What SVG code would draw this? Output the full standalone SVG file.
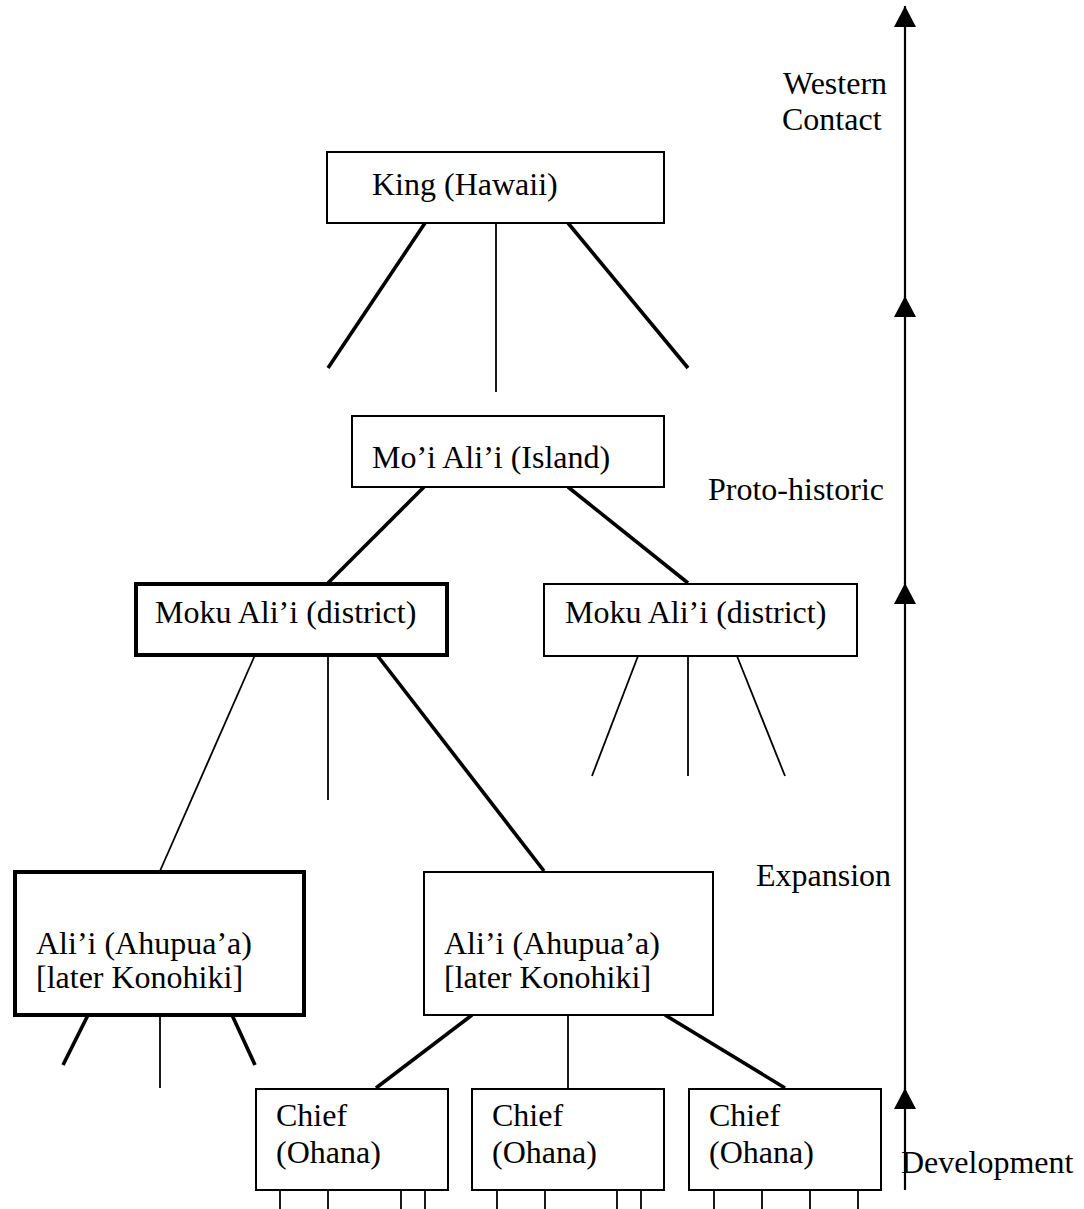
<svg xmlns="http://www.w3.org/2000/svg" width="1084" height="1209" viewBox="0 0 1084 1209">
<style>
.box{fill:#fff;stroke:#000;stroke-width:2}
.bold{stroke-width:4}
.t{font-family:"Liberation Serif","Times New Roman",serif;font-size:32px;fill:#000}
.thin{stroke:#000;stroke-width:1.8;fill:none}
.thick{stroke:#000;stroke-width:3.6;fill:none}
.axis{stroke:#000;stroke-width:2.2;fill:none;marker-end:url(#ah)}
</style>
<defs>
<marker id="ah" markerUnits="userSpaceOnUse" markerWidth="24" markerHeight="24" refX="22" refY="12" orient="auto" viewBox="0 0 24 24">
<path d="M22 12 L1 1 L1 23 Z" fill="#000"/>
</marker>
</defs>
<rect width="1084" height="1209" fill="#fff"/>
<g id="connectors">
<line class="thick" x1="425" y1="223" x2="328" y2="368"/>
<line class="thin" x1="496" y1="223" x2="496" y2="392"/>
<line class="thick" x1="568" y1="223" x2="688" y2="368"/>
<line class="thick" x1="424" y1="487" x2="328" y2="583"/>
<line class="thick" x1="568" y1="487" x2="688" y2="583"/>
<line class="thin" x1="255" y1="655" x2="160" y2="871"/>
<line class="thin" x1="328" y1="655" x2="328" y2="800"/>
<line class="thick" x1="377" y1="655" x2="544" y2="871"/>
<line class="thin" x1="638" y1="656" x2="592" y2="776"/>
<line class="thin" x1="688" y1="656" x2="688" y2="776"/>
<line class="thin" x1="737" y1="656" x2="785" y2="776"/>
<line class="thick" x1="88" y1="1015" x2="63" y2="1065"/>
<line class="thin" x1="160" y1="1015" x2="160" y2="1088"/>
<line class="thick" x1="232" y1="1015" x2="255" y2="1065"/>
<line class="thick" x1="472" y1="1015" x2="376" y2="1088"/>
<line class="thin" x1="568" y1="1015" x2="568" y2="1088"/>
<line class="thick" x1="665" y1="1015" x2="785" y2="1088"/>
<line class="thin" x1="280" y1="1190" x2="280" y2="1209"/>
<line class="thin" x1="328" y1="1190" x2="328" y2="1209"/>
<line class="thin" x1="401" y1="1190" x2="401" y2="1209"/>
<line class="thin" x1="425" y1="1190" x2="425" y2="1209"/>
<line class="thin" x1="497" y1="1190" x2="497" y2="1209"/>
<line class="thin" x1="545" y1="1190" x2="545" y2="1209"/>
<line class="thin" x1="617" y1="1190" x2="617" y2="1209"/>
<line class="thin" x1="641" y1="1190" x2="641" y2="1209"/>
<line class="thin" x1="714" y1="1190" x2="714" y2="1209"/>
<line class="thin" x1="762" y1="1190" x2="762" y2="1209"/>
<line class="thin" x1="810" y1="1190" x2="810" y2="1209"/>
<line class="thin" x1="858" y1="1190" x2="858" y2="1209"/>
</g>
<g id="timeline">
<line class="axis" x1="905" y1="297" x2="905" y2="6"/>
<line class="axis" x1="905" y1="584" x2="905" y2="296"/>
<line class="axis" x1="905" y1="1089" x2="905" y2="583"/>
<line class="axis" x1="905" y1="1190" x2="905" y2="1088"/>
<text class="t" x="783" y="94">Western</text>
<text class="t" x="782" y="130">Contact</text>
<text class="t" x="708" y="500">Proto-historic</text>
<text class="t" x="756" y="886">Expansion</text>
<text class="t" x="901" y="1173">Development</text>
</g>
<g id="king"><rect class="box" x="327" y="152" width="337" height="71"/><text class="t" x="372" y="195">King (Hawaii)</text></g>
<g id="moi"><rect class="box" x="352" y="416" width="312" height="71"/><text class="t" x="372" y="468">Mo’i Ali’i (Island)</text></g>
<g id="moku1"><rect class="box bold" x="136" y="584" width="311" height="71"/><text class="t" x="155" y="623">Moku Ali’i (district)</text></g>
<g id="moku2"><rect class="box" x="544" y="584" width="313" height="72"/><text class="t" x="565" y="623">Moku Ali’i (district)</text></g>
<g id="alii1"><rect class="box bold" x="15" y="872" width="289" height="143"/><text class="t" x="36" y="954">Ali’i (Ahupua’a)</text><text class="t" x="36" y="988">[later Konohiki]</text></g>
<g id="alii2"><rect class="box" x="424" y="872" width="289" height="143"/><text class="t" x="444" y="954">Ali’i (Ahupua’a)</text><text class="t" x="444" y="988">[later Konohiki]</text></g>
<g id="chief1"><rect class="box" x="256" y="1089" width="192" height="101"/><text class="t" x="276" y="1126">Chief</text><text class="t" x="276" y="1163">(Ohana)</text></g>
<g id="chief2"><rect class="box" x="472" y="1089" width="192" height="101"/><text class="t" x="492" y="1126">Chief</text><text class="t" x="492" y="1163">(Ohana)</text></g>
<g id="chief3"><rect class="box" x="689" y="1089" width="192" height="101"/><text class="t" x="709" y="1126">Chief</text><text class="t" x="709" y="1163">(Ohana)</text></g>
</svg>
